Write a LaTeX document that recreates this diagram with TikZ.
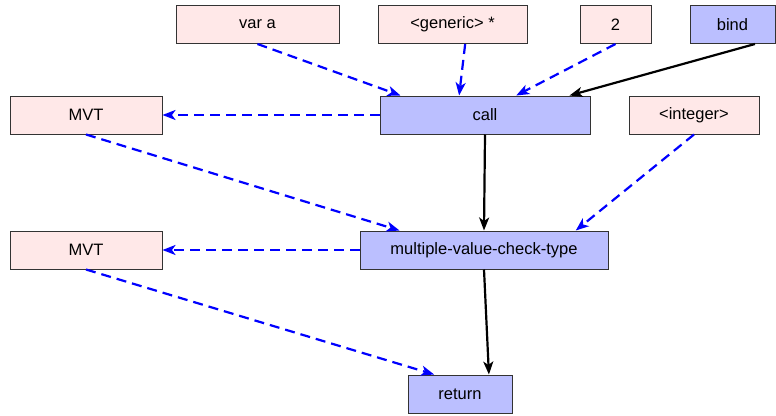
\documentclass[tikz,border=0pt]{standalone}
\usepackage{fontspec}
\setmainfont{Liberation Sans}
\usepackage{tikz}
\usetikzlibrary{arrows.meta}

\definecolor{valfill}{HTML}{FFE8E8}
\definecolor{opfill}{HTML}{BBBFFF}

\begin{document}
\begin{tikzpicture}[x=1pt, y=-1pt, >={Stealth[length=13pt,width=10pt,inset=3.5pt]},
        box/.style={draw=black!80, line width=1pt, minimum height=38pt, inner sep=0pt, font=\fontsize{16.5}{19}\selectfont},
        val/.style={box, fill=valfill},
        op/.style={box, fill=opfill},
        data/.style={->, blue, line width=2.2pt, dash pattern=on 10pt off 6pt},
        flow/.style={->, black, line width=2.2pt}]
    \useasboundingbox (0,0) rectangle (776,415);

    % operands along the top
    \node[val, minimum width=163pt] (vara) at (257.5,24.5) {var a};
    \node[val, minimum width=149pt] (generic) at (452.5,24.5) {<generic> *};
    \node[val, minimum width=71pt] (two) at (615.5,24.5) {2};
    \node[op, minimum width=85pt] (bind) at (732.5,24.5) {bind};

    % second row
    \node[val, minimum width=152pt] (mvta) at (86,115) {MVT};
    \node[op, minimum width=210pt] (call) at (485,115) {call};
    \node[val, minimum width=130pt] (int) at (694,115) {<integer>};

    % third row
    \node[val, minimum width=152pt] (mvtb) at (86,250) {MVT};
    \node[op, minimum width=248pt] (check) at (484,250) {multiple-value-check-type};

    \node[op, minimum width=104pt] (ret) at (460,394) {return};

    % data edges
    \draw[data] (vara.south) -- (call.167);
    \draw[data] (generic.-57) -- (call.143);
    \draw[data] (two.south) -- (call.32);
    \draw[data] (call.west) -- (mvta.east);
    \draw[data] (mvta.south) -- (check.167);
    \draw[data] (int.south) -- (check.12);
    \draw[data] (check.west) -- (mvtb.east);
    \draw[data] (mvtb.south) -- (ret.143);

    % control edges
    \draw[flow] (bind.-41) -- (call.13);
    \draw[flow] (call.south) -- (check.north);
    \draw[flow] (check.south) -- (ret.34);
\end{tikzpicture}
\end{document}
